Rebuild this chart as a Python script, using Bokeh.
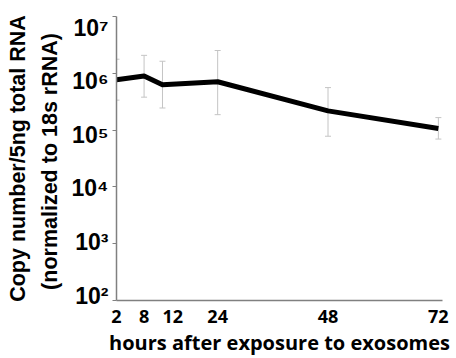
from bokeh.plotting import figure
from bokeh.models import (ColumnDataSource, Whisker, FixedTicker, TeeHead, Range1d,
                          LogAxis)
from bokeh.embed import file_html
from bokeh.resources import INLINE

# ---- data ----
hours = [2, 8, 12, 24, 48, 72]
copies = [7.7e5, 9.0e5, 6.3e5, 7.1e5, 2.18e5, 1.07e5]
err_upper = [1.77e6, 2.07e6, 1.63e6, 2.52e6, 5.6e5, 1.66e5]
err_lower = [3.37e5, 3.8e5, 2.45e5, 1.87e5, 7.8e4, 6.95e4]
x_ticks = [2, 8, 12, 24, 48, 72]
x_tick_labels = ["2", "8", "12", "24", "48", "72"]
y_ticks = [1e2, 1e3, 1e4, 1e5, 1e6, 1e7]
y_tick_labels = ["10²", "10³", "10⁴", "10⁵", "10⁶", "10⁷"]
x_label = "hours after exposure to exosomes"
y_label = "Copy number/5ng total RNA\n(normalized  to 18s rRNA)"

src = ColumnDataSource(dict(x=hours, y=copies, up=err_upper, lo=err_lower))

Y0, Y1 = 1e2, 1e7
# the tick labels of the original are spaced a little tighter than their ticks
LABEL_RANGE = (10 ** 1.9097, 10 ** 7.2087)

p = figure(width=456, height=358, output_backend="svg", toolbar_location=None,
           y_axis_type="log", x_range=Range1d(2, 72.9), y_range=Range1d(Y0, Y1),
           min_border_left=116, min_border_right=14, min_border_top=16, min_border_bottom=50)
p.extra_y_ranges = {"labels": Range1d(*LABEL_RANGE)}
p.grid.visible = False
p.outline_line_color = None
p.background_fill_color = "white"
p.border_fill_color = "white"

w = Whisker(source=src, base="x", upper="up", lower="lo", dimension="height",
            line_color="#c4c4c4", line_width=1,
            upper_head=TeeHead(size=6, line_color="#c4c4c4", line_width=1),
            lower_head=TeeHead(size=6, line_color="#c4c4c4", line_width=1))
p.add_layout(w)
p.line("x", "y", source=src, line_color="black", line_width=5, line_join="round")

# x axis
xa = p.xaxis[0]
xa.ticker = FixedTicker(ticks=x_ticks)
overrides = {}
for t, l in zip(x_ticks, x_tick_labels):
    overrides[t] = ("\u2007\u2007" + l) if t == 12 else l   # "12" sits right of its tick
xa.major_label_overrides = overrides
xa.major_tick_out = 0
xa.major_tick_in = 0
xa.major_tick_line_color = None
xa.minor_tick_line_color = None
xa.axis_line_color = "#808080"
xa.axis_line_width = 1.5
xa.major_label_text_font = "Open Sans"
xa.major_label_text_font_style = "bold"
xa.major_label_text_font_size = "18px"
xa.major_label_text_color = "black"
xa.major_label_standoff = 3
xa.axis_label = x_label
xa.axis_label_text_font = "Open Sans"
xa.axis_label_text_font_style = "bold"
xa.axis_label_text_font_size = "20px"
xa.axis_label_text_color = "black"
xa.axis_label_standoff = -2

# main y axis: line and tick marks only
ya = p.yaxis[0]
ya.ticker = FixedTicker(ticks=y_ticks, minor_ticks=[])
ya.major_tick_out = 4
ya.major_tick_in = 0
ya.major_tick_line_color = "#808080"
ya.minor_tick_line_color = None
ya.axis_line_color = "#808080"
ya.axis_line_width = 1.5
ya.major_label_text_font_size = "1px"
ya.major_label_text_alpha = 0
ya.major_label_standoff = 0

# label axis (outer)
yl = LogAxis(y_range_name="labels", ticker=FixedTicker(ticks=y_ticks, minor_ticks=[]))
yl.major_label_overrides = {t: l for t, l in zip(y_ticks, y_tick_labels)}
yl.axis_line_color = None
yl.major_tick_line_color = None
yl.minor_tick_line_color = None
yl.major_tick_out = 0
yl.major_tick_in = 0
yl.major_label_text_font = "Liberation Sans"
yl.major_label_text_font_style = "bold"
yl.major_label_text_font_size = "23px"
yl.major_label_text_color = "black"
yl.major_label_standoff = 4
yl.axis_label = y_label
yl.axis_label_text_font = "Liberation Sans"
yl.axis_label_text_font_style = "bold"
yl.axis_label_text_font_size = "21.5px"
yl.axis_label_text_line_height = 1.3
yl.axis_label_text_color = "black"
yl.axis_label_standoff = 7
p.add_layout(yl, "left")

open("out.html", "w").write(file_html(p, INLINE))
